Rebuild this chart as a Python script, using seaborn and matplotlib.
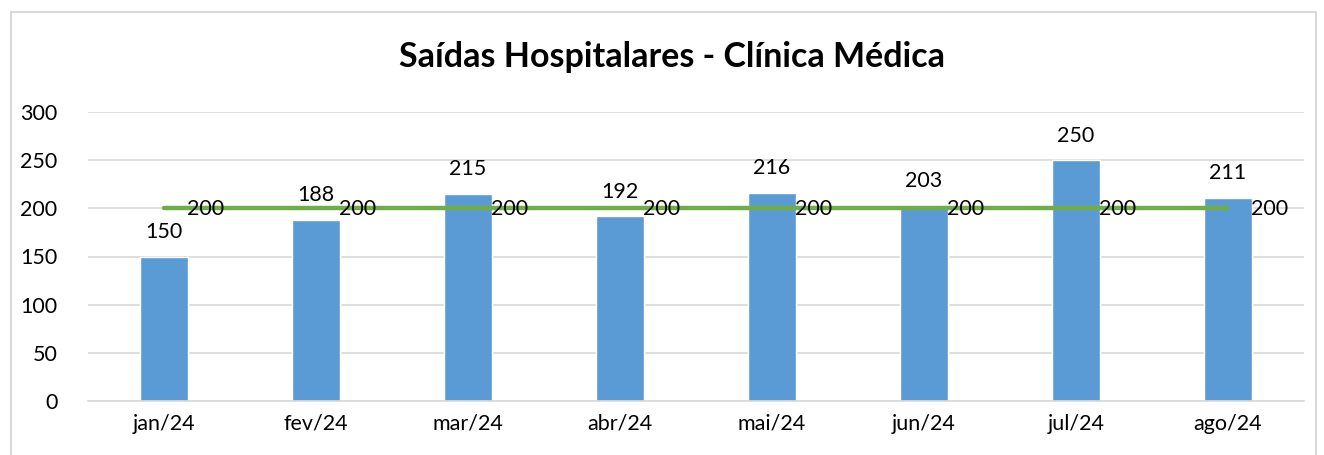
import matplotlib.pyplot as plt
import matplotlib.patches as mpatches
import seaborn as sns
import pandas as pd

meses = ["jan/24", "fev/24", "mar/24", "abr/24", "mai/24", "jun/24", "jul/24", "ago/24"]
saidas = [150, 188, 215, 192, 216, 203, 250, 211]
meta = [200, 200, 200, 200, 200, 200, 200, 200]

sns.set_theme(style="white")
plt.rcParams['font.family'] = ['Lato', 'DejaVu Sans']

df = pd.DataFrame({"mes": meses, "saidas": saidas, "meta": meta})

fig = plt.figure(figsize=(13.24, 4.55), dpi=100)
ax = fig.add_axes([88 / 1324, 1 - 401 / 455, 1216 / 1324, 289 / 455])

# borda do grafico
fig.patches.append(mpatches.Rectangle((11 / 1324, -0.05), 1305 / 1324, 1 - 12 / 455 + 0.05,
                                      transform=fig.transFigure, fill=False,
                                      edgecolor="#D9D9D9", linewidth=1.5, clip_on=False))

sns.barplot(data=df, x="mes", y="saidas", color="#5B9BD5", width=0.315,
            saturation=1, ax=ax, zorder=2)
sns.lineplot(x=list(range(len(meses))), y=df["meta"], color="#70AD47",
             linewidth=3.2, ax=ax, zorder=3, solid_capstyle="round")

fs = 15.5
for i, v in enumerate(saidas):
    ax.text(i, v + 15, str(v), ha="center", va="bottom", fontsize=fs, color="black")
for i, v in enumerate(meta):
    ax.text(i + 0.15, v - 1, str(v), ha="left", va="center", fontsize=fs, color="black", zorder=4)

ax.set_xlim(-0.5, len(meses) - 0.5)
ax.set_ylim(0, 300)
ax.set_yticks(range(0, 301, 50))
ax.yaxis.grid(True, color="#D9D9D9", linewidth=1.2)
ax.set_axisbelow(True)
for s in ["top", "right", "left"]:
    ax.spines[s].set_visible(False)
ax.spines["bottom"].set_color("#D9D9D9")
ax.spines["bottom"].set_linewidth(1.2)
ax.tick_params(axis="both", length=0, labelsize=fs, colors="black")
ax.tick_params(axis="y", pad=22)
ax.tick_params(axis="x", pad=9)
ax.set_xlabel("")
ax.set_ylabel("")

fig.text(672 / 1324, 1 - 57 / 455, "Saídas Hospitalares - Clínica Médica",
         ha="center", va="center", fontsize=24.5, fontweight="bold", color="black")

fig.savefig("out.png", dpi=100)
